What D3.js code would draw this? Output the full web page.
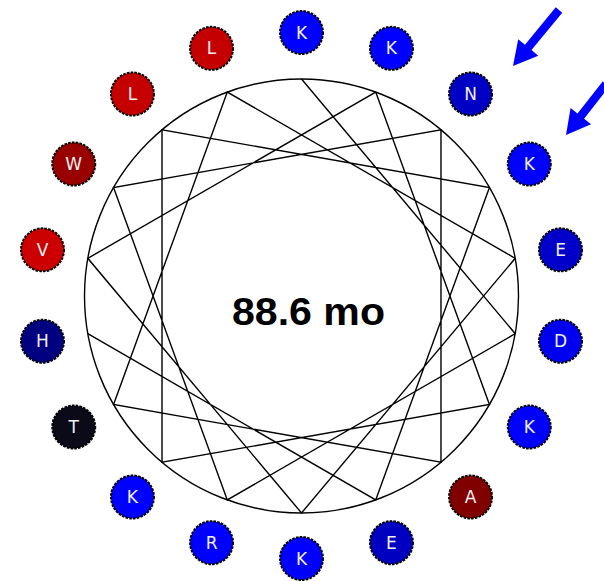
<!DOCTYPE html>
<html>
<head>
<meta charset="utf-8">
<script src="https://cdn.jsdelivr.net/npm/d3@7"></script>
<style>
  html, body { margin: 0; padding: 0; background: #fff; }
  svg { display: block; }
</style>
</head>
<body>
<svg id="chart" width="604" height="581"></svg>
<script>
// Residues in sequence order (each step rotates 100 degrees around the wheel)
const residues = ["K","D","R","W","N","A","T","L","E","K","V","K","K","K","L","K","E","H"];
const residueColors = ["#0000FF","#0000F0","#0000FF","#990000","#0000C4","#800000","#0A0A18","#C40000","#0000C8",
                       "#0000FF","#CC0000","#0000FF","#0000FF","#0000FF","#C40000","#0000FF","#0000C0","#000080"];
const stepDegrees = 100;
const centerLabel = "88.6 mo";
// arrows mark residues at index 11 (K) and 4 (N)
const markedResidues = [4, 11];

const svg = d3.select("#chart");
const cx = 301.5, cy = 295.5;
const nodeR = 263, wheelR = 217, dotR = 21.5;

const angle = d3.scaleLinear().domain([0, 1]).range([0, stepDegrees]);
const radial = (i, r) => {
  const a = (angle(i) % 360) * Math.PI / 180;
  return [cx + r * Math.sin(a), cy - r * Math.cos(a)];
};

const g = svg.append("g");

// wheel circle
g.append("circle").attr("cx", cx).attr("cy", cy + 0.5).attr("r", wheelR)
  .attr("fill", "none").attr("stroke", "#000").attr("stroke-width", 1.4);

// connecting path through residues in order
const line = d3.line();
g.append("path")
  .attr("d", line(residues.map((_, i) => radial(i, wheelR)).map(p => [p[0], p[1] + 0.5])))
  .attr("fill", "none").attr("stroke", "#000").attr("stroke-width", 1.4)
  .attr("stroke-linejoin", "miter");

// residue nodes
const nodes = g.selectAll("g.res").data(residues).join("g")
  .attr("class", "res")
  .attr("transform", (d, i) => { const p = radial(i, nodeR); return `translate(${p[0]},${p[1]})`; });
nodes.append("circle").attr("r", dotR)
  .attr("fill", (d, i) => residueColors[i])
  .attr("stroke", "#000").attr("stroke-width", 2).attr("stroke-dasharray", "2.6,1.2");
nodes.append("text").text(d => d)
  .attr("text-anchor", "middle").attr("dy", "0.36em")
  .attr("font-family", "DejaVu Sans, sans-serif").attr("font-size", 17)
  .attr("fill", "#f0f0f0");

// center label
svg.append("text").text(centerLabel)
  .attr("x", 308.5).attr("y", 325)
  .attr("text-anchor", "middle")
  .attr("font-family", "Liberation Sans, Arial, sans-serif")
  .attr("font-weight", "bold").attr("font-size", 38)
  .attr("textLength", 153).attr("lengthAdjust", "spacingAndGlyphs")
  .attr("fill", "#000");

// arrows pointing to marked residues
const arrowDefs = [
  { tail: [559, 10], tip: [513, 66] },
  { tail: [606, 84], tip: [566, 135] }
];
arrowDefs.forEach(a => {
  const dx = a.tip[0] - a.tail[0], dy = a.tip[1] - a.tail[1];
  const len = Math.hypot(dx, dy);
  const ux = dx / len, uy = dy / len, nx = -uy, ny = ux;
  const headLen = 24, headW = 13, shaftW = 4.2;
  const bx = a.tip[0] - ux * headLen, by = a.tip[1] - uy * headLen;
  const pts = [
    [a.tail[0] + nx * shaftW, a.tail[1] + ny * shaftW],
    [bx + nx * shaftW, by + ny * shaftW],
    [bx + nx * headW, by + ny * headW],
    a.tip,
    [bx - nx * headW, by - ny * headW],
    [bx - nx * shaftW, by - ny * shaftW],
    [a.tail[0] - nx * shaftW, a.tail[1] - ny * shaftW]
  ];
  svg.append("path").attr("d", d3.line()(pts) + "Z").attr("fill", "#0000FF");
});
</script>
</body>
</html>
